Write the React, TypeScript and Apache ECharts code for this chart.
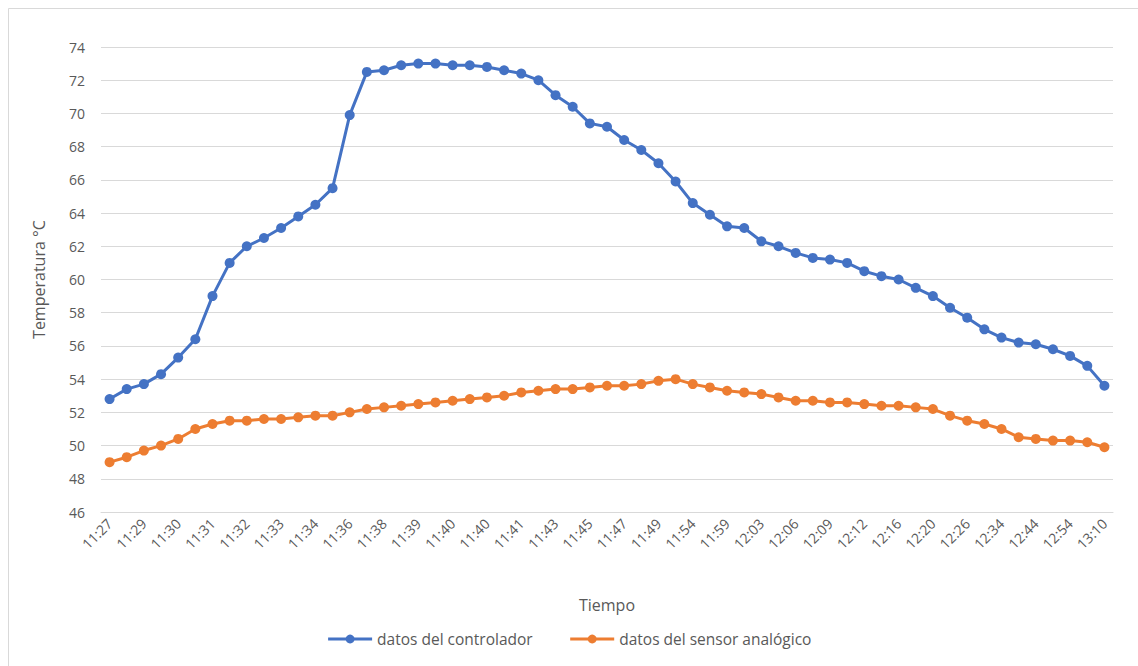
import React, { useEffect, useRef } from "react";
import * as echarts from "echarts";

const categories = [
  "11:27", "11:28", "11:29", "11:29", "11:30", "11:30", "11:31", "11:31", "11:32", "11:32",
  "11:33", "11:33", "11:34", "11:35", "11:36", "11:37", "11:38", "11:38", "11:39", "11:39",
  "11:40", "11:40", "11:40", "11:41", "11:41", "11:42", "11:43", "11:44", "11:45", "11:46",
  "11:47", "11:48", "11:49", "11:51", "11:54", "11:56", "11:59", "12:01", "12:03", "12:04",
  "12:06", "12:07", "12:09", "12:10", "12:12", "12:14", "12:16", "12:18", "12:20", "12:23",
  "12:26", "12:30", "12:34", "12:39", "12:44", "12:49", "12:54", "13:02", "13:10",
];

const controlador = [
  52.8, 53.4, 53.7, 54.3, 55.3, 56.4, 59.0, 61.0, 62.0, 62.5,
  63.1, 63.8, 64.5, 65.5, 69.9, 72.5, 72.6, 72.9, 73.0, 73.0,
  72.9, 72.9, 72.8, 72.6, 72.4, 72.0, 71.1, 70.4, 69.4, 69.2,
  68.4, 67.8, 67.0, 65.9, 64.6, 63.9, 63.2, 63.1, 62.3, 62.0,
  61.6, 61.3, 61.2, 61.0, 60.5, 60.2, 60.0, 59.5, 59.0, 58.3,
  57.7, 57.0, 56.5, 56.2, 56.1, 55.8, 55.4, 54.8, 53.6,
];

const sensor = [
  49.0, 49.3, 49.7, 50.0, 50.4, 51.0, 51.3, 51.5, 51.5, 51.6,
  51.6, 51.7, 51.8, 51.8, 52.0, 52.2, 52.3, 52.4, 52.5, 52.6,
  52.7, 52.8, 52.9, 53.0, 53.2, 53.3, 53.4, 53.4, 53.5, 53.6,
  53.6, 53.7, 53.9, 54.0, 53.7, 53.5, 53.3, 53.2, 53.1, 52.9,
  52.7, 52.7, 52.6, 52.6, 52.5, 52.4, 52.4, 52.3, 52.2, 51.8,
  51.5, 51.3, 51.0, 50.5, 50.4, 50.3, 50.3, 50.2, 49.9,
];

const seriesNames = ["datos del controlador", "datos del sensor analógico"];
const seriesColors = ["#4472C4", "#ED7D31"];

const FONT = "'Open Sans', 'Noto Sans', sans-serif";
const TEXT = "#595959";

export default function App() {
  const ref = useRef<HTMLDivElement>(null);

  useEffect(() => {
    if (!ref.current) return;
    const chart = echarts.init(ref.current, null, { renderer: "svg" });
    chart.setOption({
      animation: false,
      backgroundColor: "#ffffff",
      textStyle: { fontFamily: FONT },
      graphic: [
        {
          type: "rect",
          shape: { x: 8.5, y: 8.5, width: 1140, height: 670 },
          style: { fill: "none", stroke: "#D9D9D9", lineWidth: 1 },
          silent: true,
        },
      ],
      grid: { left: 101, right: 25, top: 47, bottom: 154, containLabel: false },
      legend: {
        bottom: 14,
        left: "center",
        itemWidth: 44,
        itemHeight: 11,
        itemGap: 36,
        textStyle: { color: TEXT, fontSize: 15.5, fontFamily: FONT },
        lineStyle: { width: 3 },
        data: seriesNames,
      },
      xAxis: {
        type: "category",
        data: categories,
        boundaryGap: true,
        name: "Tiempo",
        nameLocation: "middle",
        nameGap: 85,
        nameTextStyle: { color: TEXT, fontSize: 16, fontFamily: FONT },
        axisLine: { lineStyle: { color: "#D9D9D9", width: 1 } },
        axisTick: { show: false },
        axisLabel: {
          interval: 1,
          rotate: 45,
          color: TEXT,
          fontSize: 14,
          fontFamily: FONT,
          margin: 9,
        },
      },
      yAxis: {
        type: "value",
        min: 46,
        max: 74,
        interval: 2,
        name: "Temperatura °C",
        nameLocation: "middle",
        nameGap: 54,
        nameTextStyle: { color: TEXT, fontSize: 16, fontFamily: FONT },
        axisLine: { show: false },
        axisTick: { show: false },
        axisLabel: { color: TEXT, fontSize: 14, fontFamily: FONT, margin: 16 },
        splitLine: { lineStyle: { color: "#D9D9D9", width: 1 } },
      },
      series: [
        {
          name: seriesNames[0],
          type: "line",
          data: controlador,
          symbol: "circle",
          symbolSize: 10,
          color: seriesColors[0],
          lineStyle: { width: 3, color: seriesColors[0] },
          itemStyle: { color: seriesColors[0] },
        },
        {
          name: seriesNames[1],
          type: "line",
          data: sensor,
          symbol: "circle",
          symbolSize: 10,
          color: seriesColors[1],
          lineStyle: { width: 3, color: seriesColors[1] },
          itemStyle: { color: seriesColors[1] },
        },
      ],
    });
    return () => chart.dispose();
  }, []);

  return (
    <div
      ref={ref}
      style={{ position: "fixed", left: 0, top: 0, width: 1138, height: 666 }}
    />
  );
}
